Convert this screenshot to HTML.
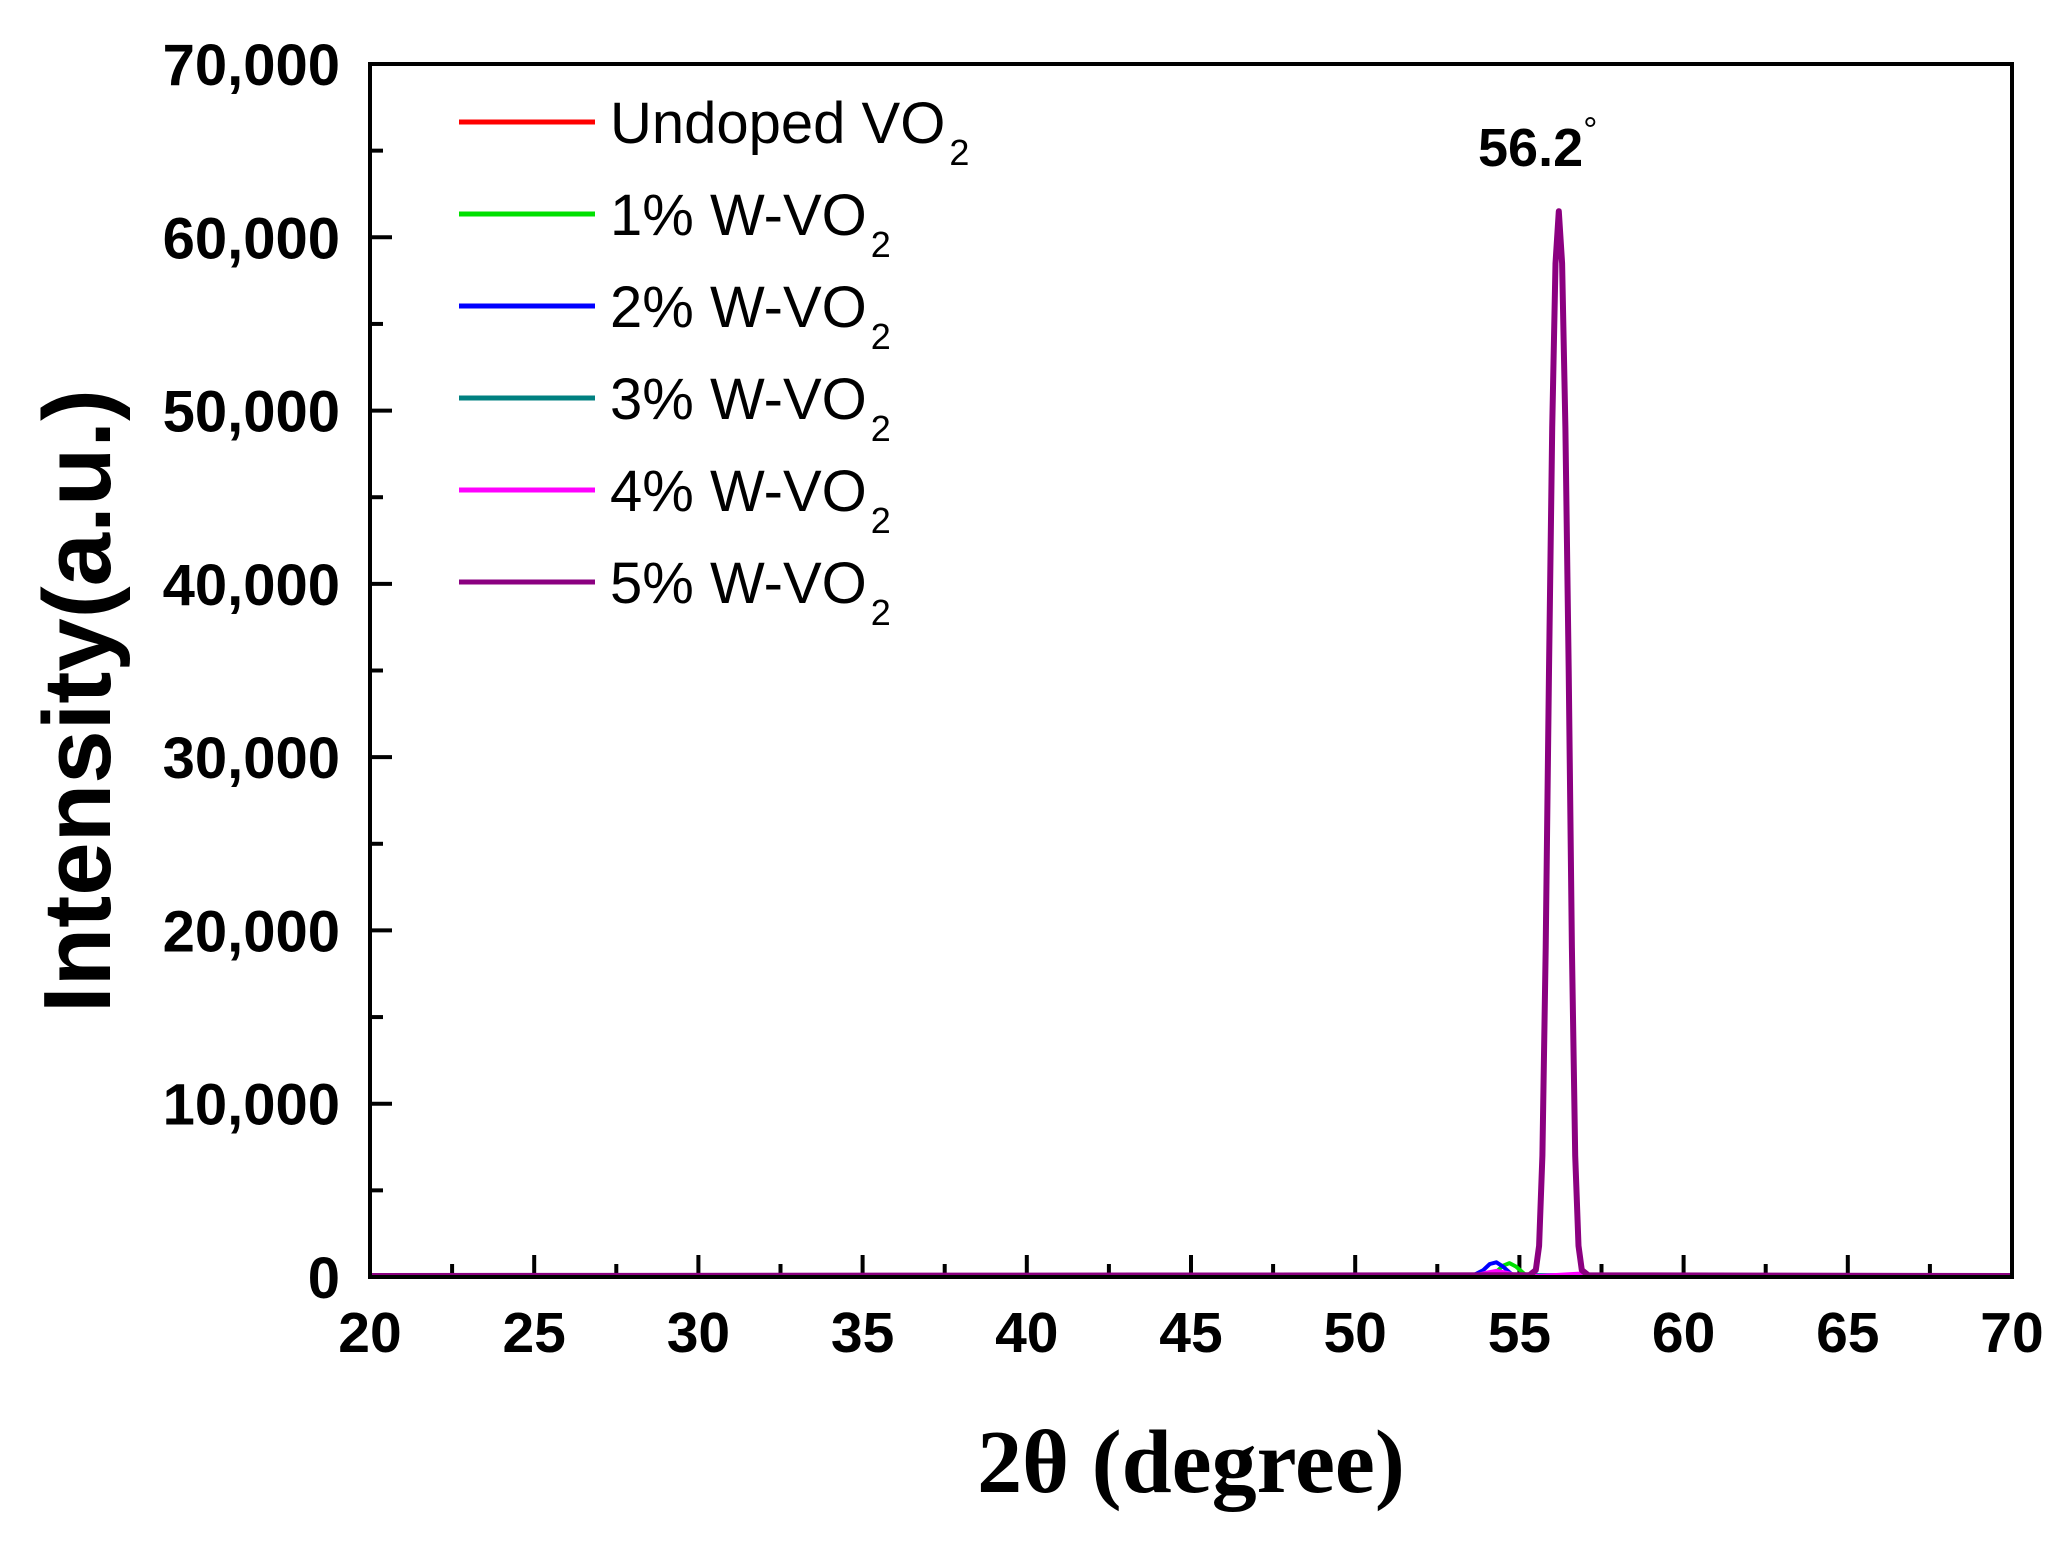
<!DOCTYPE html>
<html><head><meta charset="utf-8"><style>
html,body{margin:0;padding:0;background:#fff;}
svg{display:block;}
</style></head><body>
<svg id="chart" width="2063" height="1548" viewBox="0 0 2063 1548" xmlns="http://www.w3.org/2000/svg">
<g id="ticks"></g>
<g id="series"></g>
<rect x="370" y="64" width="1642" height="1213" fill="none" stroke="#000" stroke-width="4"/>
<g id="ylabels" font-family="Liberation Sans, sans-serif" font-weight="bold" font-size="58" text-anchor="end"></g>
<g id="xlabels" font-family="Liberation Sans, sans-serif" font-weight="bold" font-size="57" text-anchor="middle"></g>
<text x="1191" y="1492" font-family="Liberation Serif, serif" font-weight="bold" font-size="90" text-anchor="middle">2θ (degree)</text>
<text transform="translate(110,701) rotate(-90)" font-family="Liberation Sans, sans-serif" font-weight="bold" font-size="96" text-anchor="middle">Intensity(a.u.)</text>
<text x="1478" y="166" font-family="Liberation Sans, sans-serif" font-weight="bold" font-size="54">56.2<tspan font-size="36" font-weight="normal" dy="-24">°</tspan></text>
<g id="legend" font-family="Liberation Sans, sans-serif" font-size="58"></g>
</svg>
<script>
const xTicks=[20,25,30,35,40,45,50,55,60,65,70];
const yTicks=[0,10000,20000,30000,40000,50000,60000,70000];
const yTickLabels=["0","10,000","20,000","30,000","40,000","50,000","60,000","70,000"];
const seriesNames=["Undoped VO","1% W-VO","2% W-VO","3% W-VO","4% W-VO","5% W-VO"];
const seriesColors=["#ff0000","#00e000","#0000ff","#008080","#ff00ff","#8b0080"];
const x0=[20,53.5,54.3,55,70];
const y0=[80,80,120,80,80];
const x1=[20,54.0,54.3,54.5,54.7,54.9,55.2,70];
const y1=[90,90,300,650,800,600,90,90];
const x2=[20,53.6,53.9,54.1,54.3,54.5,54.8,70];
const y2=[100,100,400,750,850,600,100,100];
const x3=[20,53.8,54.3,54.8,70];
const y3=[90,90,250,90,90];
const x4=[20,53.6,54.0,54.3,54.6,55.0,55.6,56.9,57.2,70];
const y4=[60,60,250,350,250,60,60,200,60,60];
const x5=[20,55.3,55.5,55.6,55.7,55.8,55.9,56.0,56.1,56.2,56.3,56.4,56.5,56.6,56.7,56.8,56.9,57.1,70];
const y5=[60,100,400,1800,7000,19000,35000,49000,58500,61500,58500,49000,35000,19000,7000,1800,400,100,60];
const xs=[x0,x1,x2,x3,x4,x5], ys=[y0,y1,y2,y3,y4,y5];
const L=370,R=2012,T=64,B=1277;
const sx=v=>L+(v-20)/(70-20)*(R-L);
const sy=v=>B-(v/70000)*(B-T);
const NS="http://www.w3.org/2000/svg";
function mk(t,a){const e=document.createElementNS(NS,t);for(const k in a)e.setAttribute(k,a[k]);return e;}
const tg=document.getElementById('ticks');
for(let v=20;v<=70;v+=2.5){const maj=(v%5===0);const e=mk('line',{x1:sx(v),x2:sx(v),y1:B,y2:B-(maj?22:13),stroke:'#000','stroke-width':4});


tg.appendChild(e);}
for(let v=0;v<=70000;v+=5000){const maj=(v%10000===0);const e=mk('line',{x1:L,x2:L+(maj?22:13),y1:sy(v),y2:sy(v),stroke:'#000','stroke-width':4});


tg.appendChild(e);}
const yl=document.getElementById('ylabels');
yTicks.forEach((v,i)=>{const t=mk('text',{x:340,y:sy(v)+21});t.textContent=yTickLabels[i];


yl.appendChild(t);});
const xl=document.getElementById('xlabels');
xTicks.forEach(v=>{const t=mk('text',{x:sx(v),y:1352});t.textContent=String(v);


xl.appendChild(t);});
const sg=document.getElementById('series');
xs.forEach((xa,i)=>{const d=xa.map((x,j)=>(j?'L':'M')+sx(x).toFixed(1)+','+sy(ys[i][j]).toFixed(1)).join(' ');
const p=mk('path',{d:d,fill:'none',stroke:seriesColors[i],'stroke-width':i===5?6:4,'stroke-linejoin':'round'});


sg.appendChild(p);});
const lg=document.getElementById('legend');
seriesNames.forEach((n,i)=>{const y=122+i*92;
const l=mk('line',{x1:459,x2:595,y1:y,y2:y,stroke:seriesColors[i],'stroke-width':5});


lg.appendChild(l);
const t=mk('text',{x:610,y:y+21});t.textContent=n;
const s=mk('tspan',{'font-size':36,dx:4,dy:22});s.textContent='2';t.appendChild(s);


lg.appendChild(t);});
</script>
</body></html>
